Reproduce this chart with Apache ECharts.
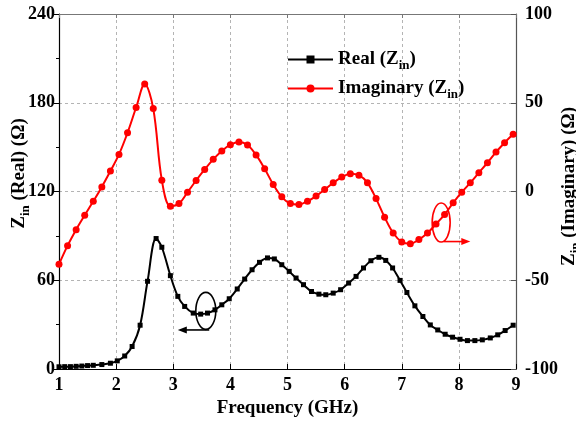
<!DOCTYPE html>
<html>
<head>
<meta charset="utf-8">
<script src="https://cdn.jsdelivr.net/npm/echarts@6/dist/echarts.min.js"></script>
<style>
  html, body { margin: 0; padding: 0; background: #fff; }
  #chart { width: 576px; height: 421px; }
</style>
</head>
<body>
<div id="chart"></div>
<script>
// Input impedance of the antenna versus frequency
var realFreq = [1.0, 1.1, 1.2, 1.3, 1.4, 1.5, 1.6, 1.75, 1.9, 2.02, 2.15, 2.28, 2.42, 2.55, 2.7, 2.8,
  2.95, 3.08, 3.2, 3.35, 3.48, 3.6, 3.73, 3.85, 3.98, 4.12, 4.25, 4.38, 4.51, 4.65, 4.77, 4.9,
  5.03, 5.15, 5.28, 5.42, 5.55, 5.67, 5.8, 5.93, 6.07, 6.2, 6.33, 6.46, 6.6, 6.72, 6.84, 6.97,
  7.09, 7.23, 7.37, 7.5, 7.63, 7.76, 7.89, 8.02, 8.15, 8.28, 8.41, 8.55, 8.68, 8.81, 8.95];
var realValues = [1.5, 1.6, 1.6, 1.8, 2.0, 2.3, 2.5, 3.0, 3.9, 5.5, 8.8, 15.2, 29.6, 59.3, 88.2, 82.3,
  63.1, 49.1, 42.3, 37.8, 37.1, 37.8, 40.0, 43.4, 47.5, 54.1, 60.8, 67.1, 72.1, 75.1, 74.4, 70.5,
  66.0, 61.5, 57.0, 52.4, 50.6, 50.2, 51.3, 53.6, 58.1, 62.6, 68.3, 73.2, 75.5, 73.4, 68.3, 59.9,
  51.7, 42.7, 35.5, 29.8, 26.4, 23.5, 21.5, 20.1, 19.2, 19.2, 19.7, 21.0, 23.1, 26.0, 29.6];

var imagFreq = [1.0, 1.15, 1.3, 1.45, 1.6, 1.75, 1.9, 2.05, 2.2, 2.35, 2.5, 2.65, 2.8, 2.95, 3.1,
  3.25, 3.4, 3.55, 3.7, 3.85, 4.0, 4.15, 4.3, 4.45, 4.6, 4.75, 4.9, 5.05, 5.2, 5.35, 5.5, 5.65,
  5.8, 5.95, 6.1, 6.25, 6.4, 6.55, 6.7, 6.85, 7.0, 7.15, 7.3, 7.45, 7.6, 7.75, 7.9, 8.05, 8.2,
  8.35, 8.5, 8.65, 8.8, 8.95];
var imagValues = [-41.0, -30.5, -21.5, -13.4, -5.5, 2.6, 11.5, 20.9, 33.1, 47.3, 60.5, 46.7, 6.4,
  -8.3, -6.8, -0.4, 6.2, 12.4, 18.1, 22.8, 26.4, 27.9, 26.2, 20.6, 12.8, 4.0, -3.0, -6.8, -7.3,
  -5.5, -2.6, 1.1, 4.9, 8.1, 10.0, 9.2, 4.9, -4.0, -14.5, -23.4, -28.4, -29.4, -27.1, -23.4,
  -18.3, -13.0, -6.4, -0.4, 4.9, 10.6, 16.2, 22.2, 27.5, 32.2];

var freqTicks = [1, 2, 3, 4, 5, 6, 7, 8, 9];
var realTicks = [0, 60, 120, 180, 240];
var imagTicks = [-100, -50, 0, 50, 100];

var FONT = '"Liberation Serif", "Times New Roman", serif';

function pairs(xs, ys) {
  return xs.map(function (x, i) { return [x, ys[i]]; });
}

function subRich(size) {
  return {
    m: { fontFamily: FONT, fontWeight: 'bold', fontSize: size, color: '#000', lineHeight: size + 6, verticalAlign: 'middle' },
    s: { fontFamily: FONT, fontWeight: 'bold', fontSize: Math.round(size * 0.66), color: '#000', lineHeight: Math.round(size * 0.7), verticalAlign: 'bottom' }
  };
}

var chart = echarts.init(document.getElementById('chart'), null, { renderer: 'canvas' });

var dashed = { show: true, lineStyle: { color: '#b4b4b4', type: [3, 3], width: 1 } };
var tickLabel = { fontFamily: FONT, fontWeight: 'bold', fontSize: 18, color: '#000' };

var option = {
  animation: false,
  backgroundColor: '#fff',
  grid: { left: 59, right: 60, top: 14, bottom: 52, containLabel: false, outerBoundsMode: 'none' },
  legend: {
    orient: 'vertical',
    left: 287,
    top: 50,
    padding: 0,
    itemWidth: 45,
    itemHeight: 10,
    itemGap: 7,
    selectedMode: false,
    textStyle: { fontFamily: FONT, fontWeight: 'bold', fontSize: 19, color: '#000', rich: subRich(19) },
    formatter: function (name) {
      return name === 'Real' ? '{m|Real (Z}{s|in}{m|)}' : '{m|Imaginary (Z}{s|in}{m|)}';
    },
    data: ['Real', 'Imaginary']
  },
  xAxis: [{
    type: 'value', min: freqTicks[0], max: freqTicks[freqTicks.length - 1], interval: 1,
    name: '{m|Frequency (GHz)}', nameLocation: 'middle', nameGap: 29,
    nameTextStyle: { rich: { m: { fontFamily: FONT, fontWeight: 'bold', fontSize: 19, color: '#000' } } },
    axisLine: { lineStyle: { color: '#000', width: 1.2 } },
    axisTick: { inside: true, length: 5, lineStyle: { color: '#000' } },
    axisLabel: Object.assign({ margin: 7 }, tickLabel),
    splitLine: dashed
  }, {
    type: 'value', position: 'top', min: 1, max: 9, interval: 1,
    axisLine: { show: true, onZero: false, lineStyle: { color: '#777', width: 1.2 } },
    axisTick: { show: true, inside: true, length: 4, lineStyle: { color: '#777' } },
    axisLabel: { show: false },
    splitLine: { show: false }
  }],
  yAxis: [{
    type: 'value', min: realTicks[0], max: realTicks[realTicks.length - 1], interval: 60,
    name: '{m|Z}{s|in}{m| (Real) (Ω)}', nameLocation: 'middle', nameGap: 27, nameRotate: 90,
    nameMoveOverlap: false,
    nameTextStyle: { rich: subRich(19), padding: [0, 0, 0, 36] },
    axisLine: { show: true, lineStyle: { color: '#000', width: 1.2 } },
    axisTick: { show: true, inside: false, length: 5, lineStyle: { color: '#000' } },
    minorTick: { show: true, splitNumber: 2, length: 3, lineStyle: { color: '#000' } },
    axisLabel: Object.assign({ margin: 4 }, tickLabel),
    splitLine: dashed
  }, {
    type: 'value', position: 'right', min: imagTicks[0], max: imagTicks[imagTicks.length - 1], interval: 50,
    name: '{m|Z}{s|in}{m| (Imaginary) (Ω)}', nameLocation: 'middle', nameGap: 41, nameRotate: 90,
    nameMoveOverlap: false,
    nameTextStyle: { rich: subRich(19), padding: [0, 0, 0, 10] },
    axisLine: { show: true, lineStyle: { color: '#555', width: 1.2 } },
    axisTick: { show: true, inside: true, length: 5, lineStyle: { color: '#555' } },
    axisLabel: Object.assign({ margin: 9 }, tickLabel),
    splitLine: { show: false }
  }],
  series: [{
    name: 'Real', type: 'line', xAxisIndex: 0, yAxisIndex: 0,
    data: pairs(realFreq, realValues),
    smooth: 0.35,
    symbol: 'rect', symbolSize: 5,
    lineStyle: { color: '#000', width: 2 },
    itemStyle: { color: '#000' }
  }, {
    name: 'Imaginary', type: 'line', xAxisIndex: 0, yAxisIndex: 1,
    data: pairs(imagFreq, imagValues),
    smooth: 0.35,
    symbol: 'circle', symbolSize: 7,
    lineStyle: { color: '#ff0000', width: 2 },
    itemStyle: { color: '#ff0000' }
  }]
};

chart.setOption(option);

// Axis-indicator annotations: ellipse round each curve with an arrow toward its axis
function px(x, y, yAxisIndex) {
  return chart.convertToPixel({ xAxisIndex: 0, yAxisIndex: yAxisIndex }, [x, y]);
}

function annotation(cx, cy, yIdx, rx, ry, arrowFrom, arrowTo, color) {
  var c = px(cx, cy, yIdx);
  var a = px(arrowFrom[0], arrowFrom[1], yIdx);
  var b = px(arrowTo[0], arrowTo[1], yIdx);
  var dir = b[0] > a[0] ? 1 : -1;
  return [{
    type: 'ellipse',
    shape: { cx: c[0], cy: c[1], rx: rx, ry: ry },
    style: { fill: 'none', stroke: color, lineWidth: 1.6 },
    z: 100
  }, {
    type: 'line',
    shape: { x1: a[0], y1: a[1], x2: b[0] - dir * 6, y2: b[1] },
    style: { stroke: color, lineWidth: 1.6 },
    z: 100
  }, {
    type: 'polygon',
    shape: { points: [[b[0], b[1]], [b[0] - dir * 9, b[1] - 3.5], [b[0] - dir * 9, b[1] + 3.5]] },
    style: { fill: color },
    z: 100
  }];
}

chart.setOption({
  graphic: [].concat(
    annotation(3.57, 39.3, 0, 10, 18.5, [3.63, 26.4], [3.08, 26.4], '#000'),
    annotation(7.69, -17.5, 1, 9, 19.5, [7.74, -28.2], [8.2, -28.2], '#ff0000')
  )
});
</script>
</body>
</html>
